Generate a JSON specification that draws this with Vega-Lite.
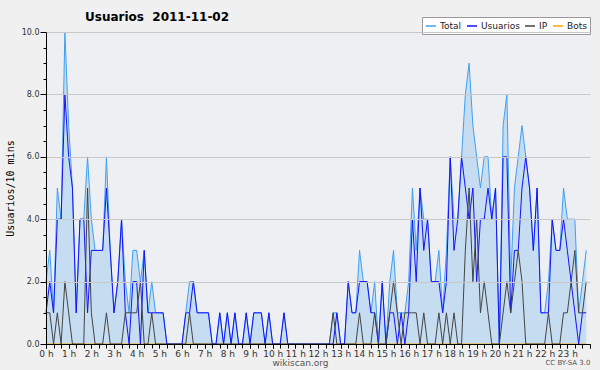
{
"$schema": "https://vega.github.io/schema/vega-lite/v6.json",
"width": 544, "height": 312,
"autosize": "none",
"padding": {"left": 46, "top": 32, "right": 10, "bottom": 26},
"background": "#f0f0f0",
"config": {"view": {"fill": "#eeeff2", "stroke": null}, "font": "DejaVu Sans"},
"title": {"text": "Usuarios\u00a0\u00a02011-11-02", "anchor": "start", "frame": "group", "dx": 39, "dy": 16, "offset": 9, "fontSize": 12, "font": "DejaVu Sans", "fontWeight": "bold", "color": "#000"},
"resolve": {"axis": {"x": "independent"}},
"data": {"values": [
{"m":0,"Total":2,"Usuarios":1,"IP":1,"Bots":0},
{"m":10,"Total":3,"Usuarios":2,"IP":1,"Bots":0},
{"m":20,"Total":1,"Usuarios":1,"IP":0,"Bots":0},
{"m":30,"Total":5,"Usuarios":4,"IP":1,"Bots":0},
{"m":40,"Total":4,"Usuarios":4,"IP":0,"Bots":0},
{"m":50,"Total":10,"Usuarios":8,"IP":2,"Bots":0},
{"m":60,"Total":7,"Usuarios":6,"IP":1,"Bots":0},
{"m":70,"Total":5,"Usuarios":5,"IP":0,"Bots":0},
{"m":80,"Total":1,"Usuarios":1,"IP":0,"Bots":0},
{"m":90,"Total":4,"Usuarios":4,"IP":0,"Bots":0},
{"m":100,"Total":4,"Usuarios":4,"IP":0,"Bots":0},
{"m":110,"Total":6,"Usuarios":1,"IP":5,"Bots":0},
{"m":120,"Total":4,"Usuarios":3,"IP":1,"Bots":0},
{"m":130,"Total":3,"Usuarios":3,"IP":0,"Bots":0},
{"m":140,"Total":3,"Usuarios":3,"IP":0,"Bots":0},
{"m":150,"Total":3,"Usuarios":3,"IP":0,"Bots":0},
{"m":160,"Total":6,"Usuarios":5,"IP":1,"Bots":0},
{"m":170,"Total":3,"Usuarios":3,"IP":0,"Bots":0},
{"m":180,"Total":1,"Usuarios":1,"IP":0,"Bots":0},
{"m":190,"Total":2,"Usuarios":2,"IP":0,"Bots":0},
{"m":200,"Total":4,"Usuarios":4,"IP":0,"Bots":0},
{"m":210,"Total":2,"Usuarios":1,"IP":1,"Bots":0},
{"m":220,"Total":1,"Usuarios":0,"IP":1,"Bots":0},
{"m":230,"Total":3,"Usuarios":2,"IP":1,"Bots":0},
{"m":240,"Total":3,"Usuarios":2,"IP":1,"Bots":0},
{"m":250,"Total":2,"Usuarios":0,"IP":2,"Bots":0},
{"m":260,"Total":3,"Usuarios":3,"IP":0,"Bots":0},
{"m":270,"Total":1,"Usuarios":1,"IP":0,"Bots":0},
{"m":280,"Total":2,"Usuarios":1,"IP":1,"Bots":0},
{"m":290,"Total":1,"Usuarios":1,"IP":0,"Bots":0},
{"m":300,"Total":1,"Usuarios":1,"IP":0,"Bots":0},
{"m":310,"Total":1,"Usuarios":1,"IP":0,"Bots":0},
{"m":320,"Total":0,"Usuarios":0,"IP":0,"Bots":0},
{"m":330,"Total":0,"Usuarios":0,"IP":0,"Bots":0},
{"m":340,"Total":0,"Usuarios":0,"IP":0,"Bots":0},
{"m":350,"Total":0,"Usuarios":0,"IP":0,"Bots":0},
{"m":360,"Total":0,"Usuarios":0,"IP":0,"Bots":0},
{"m":370,"Total":1,"Usuarios":1,"IP":0,"Bots":0},
{"m":380,"Total":2,"Usuarios":1,"IP":1,"Bots":0},
{"m":390,"Total":2,"Usuarios":2,"IP":0,"Bots":0},
{"m":400,"Total":1,"Usuarios":1,"IP":0,"Bots":0},
{"m":410,"Total":1,"Usuarios":1,"IP":0,"Bots":0},
{"m":420,"Total":1,"Usuarios":1,"IP":0,"Bots":0},
{"m":430,"Total":1,"Usuarios":1,"IP":0,"Bots":0},
{"m":440,"Total":0,"Usuarios":0,"IP":0,"Bots":0},
{"m":450,"Total":0,"Usuarios":0,"IP":0,"Bots":0},
{"m":460,"Total":1,"Usuarios":1,"IP":0,"Bots":0},
{"m":470,"Total":0,"Usuarios":0,"IP":0,"Bots":0},
{"m":480,"Total":1,"Usuarios":1,"IP":0,"Bots":0},
{"m":490,"Total":0,"Usuarios":0,"IP":0,"Bots":0},
{"m":500,"Total":1,"Usuarios":1,"IP":0,"Bots":0},
{"m":510,"Total":0,"Usuarios":0,"IP":0,"Bots":0},
{"m":520,"Total":0,"Usuarios":0,"IP":0,"Bots":0},
{"m":530,"Total":1,"Usuarios":1,"IP":0,"Bots":0},
{"m":540,"Total":0,"Usuarios":0,"IP":0,"Bots":0},
{"m":550,"Total":1,"Usuarios":1,"IP":0,"Bots":0},
{"m":560,"Total":1,"Usuarios":1,"IP":0,"Bots":0},
{"m":570,"Total":1,"Usuarios":1,"IP":0,"Bots":0},
{"m":580,"Total":0,"Usuarios":0,"IP":0,"Bots":0},
{"m":590,"Total":1,"Usuarios":1,"IP":0,"Bots":0},
{"m":600,"Total":0,"Usuarios":0,"IP":0,"Bots":0},
{"m":610,"Total":0,"Usuarios":0,"IP":0,"Bots":0},
{"m":620,"Total":0,"Usuarios":0,"IP":0,"Bots":0},
{"m":630,"Total":1,"Usuarios":1,"IP":0,"Bots":0},
{"m":640,"Total":0,"Usuarios":0,"IP":0,"Bots":0},
{"m":650,"Total":0,"Usuarios":0,"IP":0,"Bots":0},
{"m":660,"Total":0,"Usuarios":0,"IP":0,"Bots":0},
{"m":670,"Total":0,"Usuarios":0,"IP":0,"Bots":0},
{"m":680,"Total":0,"Usuarios":0,"IP":0,"Bots":0},
{"m":690,"Total":0,"Usuarios":0,"IP":0,"Bots":0},
{"m":700,"Total":0,"Usuarios":0,"IP":0,"Bots":0},
{"m":710,"Total":0,"Usuarios":0,"IP":0,"Bots":0},
{"m":720,"Total":0,"Usuarios":0,"IP":0,"Bots":0},
{"m":730,"Total":0,"Usuarios":0,"IP":0,"Bots":0},
{"m":740,"Total":0,"Usuarios":0,"IP":0,"Bots":0},
{"m":750,"Total":0,"Usuarios":0,"IP":0,"Bots":0},
{"m":760,"Total":1,"Usuarios":0,"IP":1,"Bots":0},
{"m":770,"Total":1,"Usuarios":1,"IP":0,"Bots":0},
{"m":780,"Total":0,"Usuarios":0,"IP":0,"Bots":0},
{"m":790,"Total":0,"Usuarios":0,"IP":0,"Bots":0},
{"m":800,"Total":2,"Usuarios":2,"IP":0,"Bots":0},
{"m":810,"Total":1,"Usuarios":1,"IP":0,"Bots":0},
{"m":820,"Total":1,"Usuarios":1,"IP":0,"Bots":0},
{"m":830,"Total":3,"Usuarios":2,"IP":1,"Bots":0},
{"m":840,"Total":2,"Usuarios":2,"IP":0,"Bots":0},
{"m":850,"Total":2,"Usuarios":2,"IP":0,"Bots":0},
{"m":860,"Total":1,"Usuarios":1,"IP":0,"Bots":0},
{"m":870,"Total":2,"Usuarios":1,"IP":1,"Bots":0},
{"m":880,"Total":0,"Usuarios":0,"IP":0,"Bots":0},
{"m":890,"Total":2,"Usuarios":2,"IP":0,"Bots":0},
{"m":900,"Total":0,"Usuarios":0,"IP":0,"Bots":0},
{"m":910,"Total":2,"Usuarios":1,"IP":1,"Bots":0},
{"m":920,"Total":3,"Usuarios":1,"IP":2,"Bots":0},
{"m":930,"Total":1,"Usuarios":0,"IP":1,"Bots":0},
{"m":940,"Total":1,"Usuarios":1,"IP":0,"Bots":0},
{"m":950,"Total":1,"Usuarios":0,"IP":1,"Bots":0},
{"m":960,"Total":2,"Usuarios":1,"IP":1,"Bots":0},
{"m":970,"Total":5,"Usuarios":4,"IP":1,"Bots":0},
{"m":980,"Total":3,"Usuarios":2,"IP":1,"Bots":0},
{"m":990,"Total":5,"Usuarios":5,"IP":0,"Bots":0},
{"m":1000,"Total":4,"Usuarios":3,"IP":1,"Bots":0},
{"m":1010,"Total":4,"Usuarios":4,"IP":0,"Bots":0},
{"m":1020,"Total":2,"Usuarios":2,"IP":0,"Bots":0},
{"m":1030,"Total":2,"Usuarios":2,"IP":0,"Bots":0},
{"m":1040,"Total":3,"Usuarios":2,"IP":1,"Bots":0},
{"m":1050,"Total":1,"Usuarios":1,"IP":0,"Bots":0},
{"m":1060,"Total":3,"Usuarios":2,"IP":1,"Bots":0},
{"m":1070,"Total":6,"Usuarios":6,"IP":0,"Bots":0},
{"m":1080,"Total":4,"Usuarios":3,"IP":1,"Bots":0},
{"m":1090,"Total":4,"Usuarios":4,"IP":0,"Bots":0},
{"m":1100,"Total":6,"Usuarios":6,"IP":0,"Bots":0},
{"m":1110,"Total":8,"Usuarios":5,"IP":3,"Bots":0},
{"m":1120,"Total":9,"Usuarios":4,"IP":5,"Bots":0},
{"m":1130,"Total":7,"Usuarios":5,"IP":2,"Bots":0},
{"m":1140,"Total":6,"Usuarios":2,"IP":4,"Bots":0},
{"m":1150,"Total":5,"Usuarios":4,"IP":1,"Bots":0},
{"m":1160,"Total":6,"Usuarios":4,"IP":2,"Bots":0},
{"m":1170,"Total":6,"Usuarios":5,"IP":1,"Bots":0},
{"m":1180,"Total":4,"Usuarios":4,"IP":0,"Bots":0},
{"m":1190,"Total":5,"Usuarios":5,"IP":0,"Bots":0},
{"m":1200,"Total":0,"Usuarios":0,"IP":0,"Bots":0},
{"m":1210,"Total":7,"Usuarios":6,"IP":1,"Bots":0},
{"m":1220,"Total":8,"Usuarios":6,"IP":2,"Bots":0},
{"m":1230,"Total":2,"Usuarios":1,"IP":1,"Bots":0},
{"m":1240,"Total":5,"Usuarios":3,"IP":2,"Bots":0},
{"m":1250,"Total":6,"Usuarios":3,"IP":3,"Bots":0},
{"m":1260,"Total":7,"Usuarios":5,"IP":2,"Bots":0},
{"m":1270,"Total":6,"Usuarios":6,"IP":0,"Bots":0},
{"m":1280,"Total":5,"Usuarios":5,"IP":0,"Bots":0},
{"m":1290,"Total":3,"Usuarios":3,"IP":0,"Bots":0},
{"m":1300,"Total":5,"Usuarios":5,"IP":0,"Bots":0},
{"m":1310,"Total":1,"Usuarios":1,"IP":0,"Bots":0},
{"m":1320,"Total":1,"Usuarios":1,"IP":0,"Bots":0},
{"m":1330,"Total":2,"Usuarios":1,"IP":1,"Bots":0},
{"m":1340,"Total":4,"Usuarios":4,"IP":0,"Bots":0},
{"m":1350,"Total":3,"Usuarios":3,"IP":0,"Bots":0},
{"m":1360,"Total":3,"Usuarios":3,"IP":0,"Bots":0},
{"m":1370,"Total":5,"Usuarios":4,"IP":1,"Bots":0},
{"m":1380,"Total":4,"Usuarios":3,"IP":1,"Bots":0},
{"m":1390,"Total":4,"Usuarios":2,"IP":2,"Bots":0},
{"m":1400,"Total":4,"Usuarios":1,"IP":3,"Bots":0},
{"m":1410,"Total":1,"Usuarios":0,"IP":1,"Bots":0},
{"m":1420,"Total":2,"Usuarios":1,"IP":1,"Bots":0},
{"m":1430,"Total":3,"Usuarios":1,"IP":2,"Bots":0}
]},
"layer": [
{"mark": {"type": "area", "color": "#b5d4f0", "opacity": 0.7},
 "encoding": {
  "x": {"field": "m", "type": "quantitative", "scale": {"domain": [0, 1440], "nice": false},
   "axis": {"title": "wikiscan.org", "orient": "bottom",
    "values": [0,60,120,180,240,300,360,420,480,540,600,660,720,780,840,900,960,1020,1080,1140,1200,1260,1320,1380,1440],
    "labelExpr": "datum.value < 1440 ? (datum.value / 60) + ' h' : ''",
    "labelOverlap": false, "labelFlush": false, "labelFontSize": 9, "labelColor": "#333", "labelPadding": 1,
    "tickSize": 4, "tickColor": "#000", "domainColor": "#000", "grid": false, "zindex": 1,
    "titleFontSize": 9, "titleFontWeight": "normal", "titleColor": "#555", "titleX": 254, "titleY": 14, "titleBaseline": "top", "titleAnchor": "middle", "titleAlign": "center"}},
  "y": {"field": "Total", "type": "quantitative", "scale": {"domain": [0, 10], "nice": false},
   "axis": {"title": "Usuarios/10 mins", "values": [0,0.5,1,1.5,2,2.5,3,3.5,4,4.5,5,5.5,6,6.5,7,7.5,8,8.5,9,9.5,10],
    "labelExpr": "datum.value % 2 === 0 ? format(datum.value, '.1f') : ''",
    "labelOverlap": false, "labelFontSize": 8, "labelColor": "#333", "labelPadding": 1,
    "tickSize": {"condition": {"test": "datum.value % 2 === 0", "value": 6}, "value": 3},
    "tickColor": "#000", "domainColor": "#000", "zindex": 1,
    "grid": true, "gridColor": "#c8c8c8",
    "gridOpacity": {"condition": {"test": "datum.value % 2 === 0 && datum.value > 0", "value": 1}, "value": 0},
    "titleFont": "DejaVu Sans Mono", "titleFontSize": 10, "titleFontWeight": "normal", "titleColor": "#000", "titlePadding": 6}}
 }},
{"transform": [{"fold": ["Bots", "Total", "Usuarios", "IP"], "as": ["serie", "valor"]}],
 "mark": {"type": "line", "strokeWidth": 1},
 "encoding": {
  "x": {"field": "m", "type": "quantitative",
   "axis": {"title": "CC BY-SA 3.0", "orient": "bottom",
    "values": [0,20,40,60,80,100,120,140,160,180,200,220,240,260,280,300,320,340,360,380,400,420,440,460,480,500,520,540,560,580,600,620,640,660,680,700,720,740,760,780,800,820,840,860,880,900,920,940,960,980,1000,1020,1040,1060,1080,1100,1120,1140,1160,1180,1200,1220,1240,1260,1280,1300,1320,1340,1360,1380,1400,1420,1440],
    "labels": false, "domain": false, "grid": false, "tickSize": 4, "tickColor": "#000", "zindex": 1,
    "titleFontSize": 7, "titleFontWeight": "normal", "titleColor": "#555", "titleX": 544, "titleY": 14, "titleBaseline": "top", "titleAnchor": "end", "titleAlign": "right"}},
  "y": {"field": "valor", "type": "quantitative",
   "axis": {"title": "Usuarios/10 mins", "values": [0,0.5,1,1.5,2,2.5,3,3.5,4,4.5,5,5.5,6,6.5,7,7.5,8,8.5,9,9.5,10],
    "labelExpr": "datum.value % 2 === 0 ? format(datum.value, '.1f') : ''",
    "labelOverlap": false, "labelFontSize": 8, "labelColor": "#333", "labelPadding": 1,
    "tickSize": {"condition": {"test": "datum.value % 2 === 0", "value": 6}, "value": 3},
    "tickColor": "#000", "domainColor": "#000", "zindex": 1,
    "grid": true, "gridColor": "#c8c8c8",
    "gridOpacity": {"condition": {"test": "datum.value % 2 === 0 && datum.value > 0", "value": 1}, "value": 0},
    "titleFont": "DejaVu Sans Mono", "titleFontSize": 10, "titleFontWeight": "normal", "titleColor": "#000", "titlePadding": 6}},
  "color": {"field": "serie", "type": "nominal",
   "scale": {"domain": ["Total", "Usuarios", "IP", "Bots"], "range": ["#3fa0f2", "#1212ff", "#444444", "#ffa500"]},
   "legend": {"orient": "none", "legendX": 376, "legendY": -15, "direction": "horizontal", "title": null,
    "symbolType": "stroke", "symbolStrokeWidth": 1.5, "symbolSize": 100, "labelFontSize": 9, "labelColor": "#222",
    "columnPadding": 2, "padding": 3, "strokeColor": "#999", "fillColor": "#ffffff", "labelOffset": 3}}
 }}
]
}
